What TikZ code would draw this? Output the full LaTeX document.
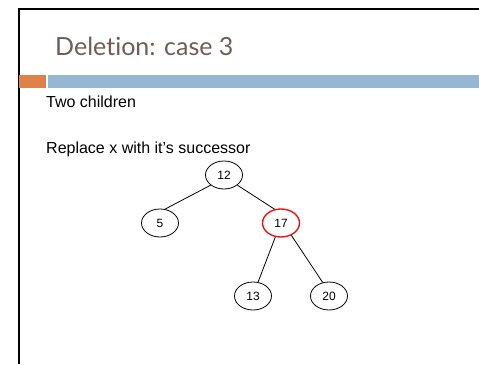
\documentclass[tikz,border=0pt]{standalone}
\usepackage{fontspec}
\setmainfont{Liberation Sans}
\newfontfamily\titlefont[Ligatures=NoCommon]{Lato}
\usetikzlibrary{shapes.geometric}
\definecolor{titlebrown}{RGB}{112,92,86}
\definecolor{barorange}{RGB}{222,130,74}
\definecolor{barblue}{RGB}{149,183,211}
\definecolor{hired}{RGB}{230,20,20}

\begin{document}
\begin{tikzpicture}[x=1pt, y=-1pt,
    key/.style={ellipse, draw, line width=0.8pt, minimum width=37pt, minimum height=28pt,
                inner sep=0pt, font=\fontsize{12}{14}\selectfont},
    succ/.style={key, draw=hired, line width=1.4pt},
    link/.style={line width=0.8pt},
    body/.style={anchor=base west, inner sep=0pt, font=\fontsize{16}{19}\selectfont}
]
\useasboundingbox (0,0) rectangle (479,364);

% Slide frame and bars
\draw[line width=2pt] (479,9) -- (19,9) -- (19,364);
\fill[barorange] (19,75) rectangle (46,88);
\fill[barblue] (48,75) rectangle (479,88);

% Title and text
\node[anchor=base west, inner sep=0pt, text=titlebrown,
      font=\titlefont\fontsize{25}{30}\selectfont] (title) at (55,55) {Deletion: case 3};
\node[body] (line1) at (46,107) {Two children};
\node[body] (line2) at (46,153) {Replace x with it’s successor};

% Tree
\node[key]  (k12) at (224,175) {12};
\node[key]  (k5)  at (160,223) {5};
\node[succ] (k17) at (281,223) {17};
\node[key]  (k13) at (253,296) {13};
\node[key]  (k20) at (329,296) {20};

\draw[link] (k12.south west) -- (k5.70);
\draw[link] (k12.south east) -- (k17.115);
\draw[link] (k17.248) -- (k13.70);
\draw[link] (k17.-50) -- (k20.115);

\end{tikzpicture}
\end{document}
